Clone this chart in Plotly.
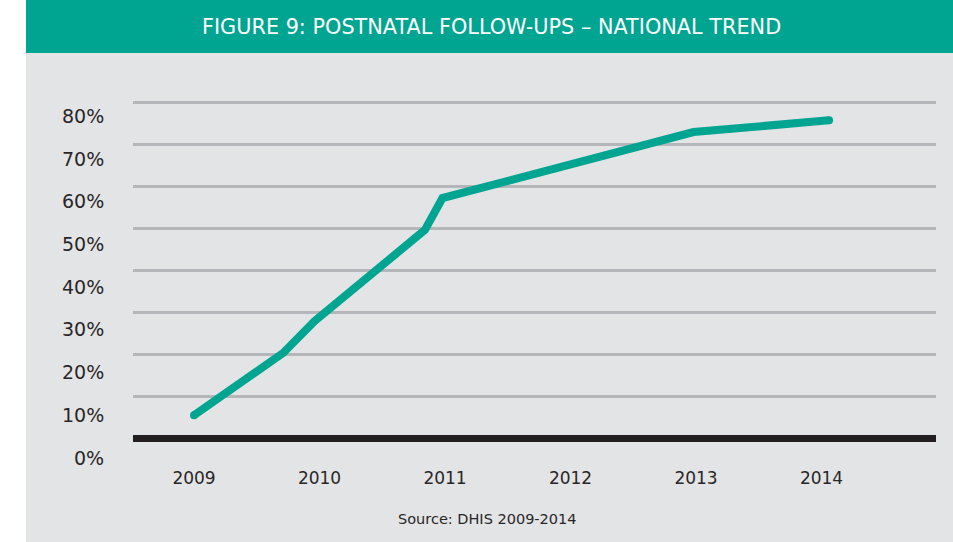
import plotly.graph_objects as go

# ---- data ----
x_years = [2009.0, 2009.71, 2009.96, 2010.84, 2010.98, 2012.98, 2014.06]
values = [5.6, 20.4, 28.0, 49.7, 57.3, 73.0, 75.8]
year_ticks = [2009, 2010, 2011, 2012, 2013, 2014]
year_labels = ["2009", "2010", "2011", "2012", "2013", "2014"]
pct_ticks = [0, 10, 20, 30, 40, 50, 60, 70, 80]
pct_labels = ["0%", "10%", "20%", "30%", "40%", "50%", "60%", "70%", "80%"]
title = "FIGURE 9: POSTNATAL FOLLOW-UPS – NATIONAL TREND"
source = "Source: DHIS 2009-2014"

TEAL = "#00a591"
BG = "#e3e4e6"
GRID = "#b5b6b9"
DARK = "#2a2627"
FONT = "DejaVu Sans"

W, H = 953, 542
ML, MR, MT, MB = 133, 17, 90, 80
yr = [-5.55, 83.02]
px_per_unit = (H - MT - MB) / (yr[1] - yr[0])
# label positions (text sits below its gridline)
label_pos = [v - (13.6 + (80 - v) * 0.07) / px_per_unit for v in pct_ticks]

fig = go.Figure()
fig.add_trace(go.Scatter(
    x=x_years, y=values, mode="lines",
    line=dict(color=TEAL, width=8), hoverinfo="skip", showlegend=False,
))
fig.add_trace(go.Scatter(
    x=[x_years[0], x_years[-1]], y=[values[0], values[-1]], mode="markers",
    marker=dict(color=TEAL, size=8), hoverinfo="skip", showlegend=False,
))
# invisible trace for label axis
fig.add_trace(go.Scatter(x=[x_years[0]], y=[values[0]], yaxis="y2",
                         mode="markers", marker=dict(opacity=0),
                         hoverinfo="skip", showlegend=False))

pw = W - ML - MR
ph = H - MT - MB
def px2x(px):
    return (px - ML) / pw
def py2y(py):
    return (H - MB - py) / ph

fig.update_layout(
    width=W, height=H,
    margin=dict(l=ML, r=MR, t=MT, b=MB, autoexpand=False),
    paper_bgcolor=BG, plot_bgcolor=BG,
    font=dict(family=FONT, color=DARK),
    xaxis=dict(
        range=[2008.514, 2014.912], tickvals=year_ticks, ticktext=year_labels,
        showgrid=False, zeroline=False, showline=False,
        ticks="outside", ticklen=1, tickcolor="rgba(0,0,0,0)",
        tickfont=dict(size=17, color=DARK, family=FONT),
    ),
    yaxis=dict(
        range=yr, tickvals=pct_ticks[1:], showticklabels=False,
        showgrid=True, gridcolor=GRID, gridwidth=3,
        zeroline=True, zerolinecolor="#231f20", zerolinewidth=7, showline=False,
    ),
    yaxis2=dict(
        range=yr, overlaying="y", side="left", tickvals=label_pos,
        ticktext=pct_labels, showgrid=False, zeroline=False, showline=False,
        ticks="outside", ticklen=24, tickcolor="rgba(0,0,0,0)",
        tickfont=dict(size=19, color=DARK, family=FONT),
    ),
    shapes=[
        dict(type="rect", xref="paper", yref="paper", layer="below",
             x0=px2x(0), x1=px2x(26), y0=py2y(H), y1=py2y(0),
             fillcolor="white", line=dict(width=0)),
        dict(type="rect", xref="paper", yref="paper", layer="below",
             x0=px2x(26), x1=px2x(W), y0=py2y(53), y1=py2y(0),
             fillcolor=TEAL, line=dict(width=0)),
    ],
    annotations=[
        dict(text=title, xref="paper", yref="paper", x=px2x(491), y=py2y(27),
             showarrow=False, xanchor="center", yanchor="middle",
             font=dict(size=20.8, color="white", family=FONT)),
        dict(text=source, xref="paper", yref="paper", x=px2x(487), y=py2y(519),
             showarrow=False, xanchor="center", yanchor="middle",
             font=dict(size=14.5, color=DARK, family=FONT)),
    ],
)

fig.write_html("out.html", config={"displayModeBar": False},
               post_script="document.body.style.margin='0';")
